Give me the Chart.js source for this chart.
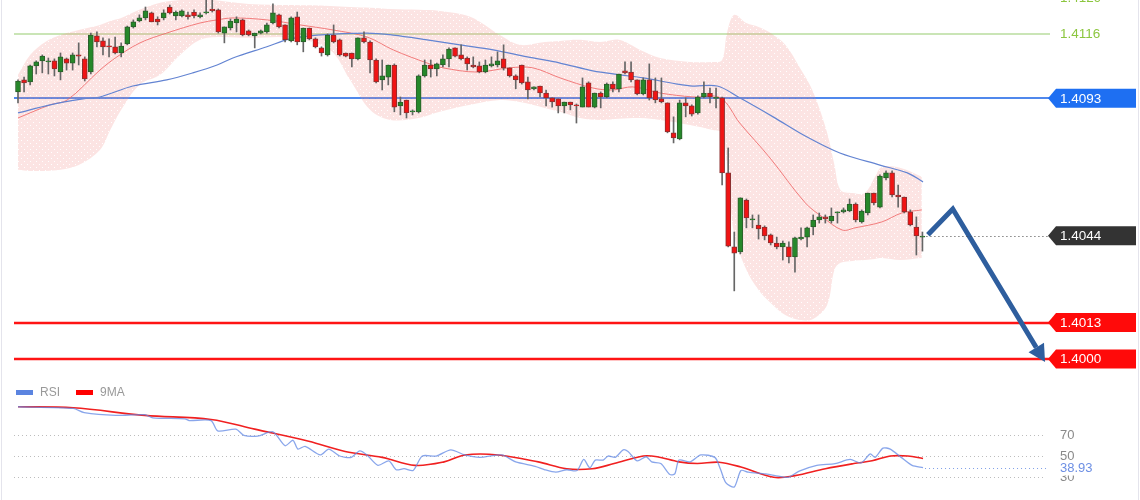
<!DOCTYPE html>
<html lang="en">
<head>
<meta charset="UTF-8">
<title>Price chart with RSI</title>
<script src="https://cdn.jsdelivr.net/npm/chart.js"></script>
<style>
  body { margin: 0; background: #fff; }
  #wrap { position: relative; width: 1140px; height: 500px; overflow: hidden; }
  #wrap canvas { position: absolute; left: 0; }
  #price { top: 0; }
  #rsi { top: 380px; }
  .edge { position: absolute; top: 0; width: 1px; height: 500px; background: #e4e4ec; }
</style>
</head>
<body>
<div id="wrap">
  <canvas id="price" width="1140" height="380"></canvas>
  <canvas id="rsi" width="1140" height="120"></canvas>
  <div class="edge" style="left:1px"></div>
  <div class="edge" style="left:1138px"></div>
</div>

<script>
// candles, oldest first
const open = [
  1.40953,1.40996,1.40989,1.41046,1.41064,1.41060,1.41064,1.41024,1.41071,1.41056,
  1.41085,1.41071,1.41024,1.41153,1.41135,1.41117,1.41114,1.41092,1.41124,1.41185,
  1.41206,1.41217,1.41235,1.41213,1.41217,1.41256,1.41224,1.41224,1.41228,1.41238,
  1.41221,1.41235,1.41249,1.41246,1.41163,1.41181,1.41199,1.41210,1.41171,1.41153,
  1.41163,1.41167,1.41199,1.41228,1.41192,1.41135,1.41221,1.41131,1.41181,1.41142,
  1.41110,1.41085,1.41156,1.41139,1.41092,1.41092,1.41071,1.41146,1.41131,1.41067,
  1.40996,1.41006,1.41049,1.40903,1.40924,1.40882,1.40882,1.41010,1.41049,1.41035,
  1.41049,1.41071,1.41110,1.41085,1.41074,1.41049,1.41046,1.41024,1.41046,1.41049,
  1.41071,1.41039,1.41010,1.41049,1.40989,1.40964,1.40974,1.40949,1.40932,1.40928,
  1.40903,1.40917,1.40907,1.40899,1.40985,1.40899,1.40949,1.40935,1.40981,1.40964,
  1.41028,1.41024,1.40996,1.40946,1.40996,1.40957,1.40928,1.40914,1.40807,1.40785,
  1.40914,1.40903,1.40878,1.40935,1.40949,1.40930,1.40932,1.40664,1.40400,1.40382,
  1.40567,1.40496,1.40478,1.40471,1.40443,1.40414,1.40400,1.40400,1.40364,1.40428,
  1.40435,1.40471,1.40496,1.40507,1.40493,1.40521,1.40525,1.40528,1.40553,1.40489,
  1.40521,1.40592,1.40542,1.40646,1.40664,1.40585,1.40578,1.40525,1.40471,1.40435
];
const high = [
  1.40996,1.41006,1.41049,1.41064,1.41085,1.41074,1.41071,1.41092,1.41074,1.41092,
  1.41128,1.41078,1.41163,1.41167,1.41146,1.41142,1.41149,1.41128,1.41188,1.41210,
  1.41228,1.41256,1.41238,1.41221,1.41246,1.41263,1.41242,1.41246,1.41238,1.41246,
  1.41235,1.41281,1.41281,1.41249,1.41185,1.41213,1.41221,1.41213,1.41174,1.41163,
  1.41174,1.41199,1.41267,1.41231,1.41192,1.41221,1.41238,1.41181,1.41181,1.41146,
  1.41114,1.41160,1.41192,1.41142,1.41092,1.41092,1.41146,1.41167,1.41135,1.41071,
  1.41067,1.41049,1.41053,1.40935,1.40924,1.40889,1.41014,1.41067,1.41067,1.41056,
  1.41085,1.41110,1.41110,1.41121,1.41078,1.41078,1.41060,1.41067,1.41078,1.41096,
  1.41121,1.41039,1.41014,1.41049,1.41006,1.40971,1.40974,1.40960,1.40932,1.40928,
  1.40917,1.40917,1.40910,1.41003,1.40989,1.40949,1.40953,1.40985,1.40989,1.41017,
  1.41060,1.41060,1.40996,1.41003,1.41053,1.41003,1.41003,1.40914,1.40864,1.40924,
  1.40932,1.40907,1.40939,1.40989,1.40967,1.40967,1.40935,1.40753,1.40453,1.40575,
  1.40571,1.40514,1.40514,1.40475,1.40446,1.40435,1.40421,1.40418,1.40435,1.40468,
  1.40471,1.40514,1.40521,1.40514,1.40539,1.40525,1.40539,1.40571,1.40557,1.40532,
  1.40592,1.40592,1.40657,1.40671,1.40671,1.40621,1.40578,1.40532,1.40507,1.40453
];
const low = [
  1.40914,1.40953,1.40978,1.41017,1.41021,1.41017,1.41010,1.40996,1.41031,1.41031,
  1.41049,1.40992,1.41017,1.41114,1.41085,1.41078,1.41089,1.41078,1.41121,1.41181,
  1.41203,1.41210,1.41203,1.41192,1.41210,1.41231,1.41210,1.41221,1.41213,1.41217,
  1.41217,1.41231,1.41238,1.41163,1.41128,1.41174,1.41167,1.41153,1.41153,1.41110,
  1.41160,1.41163,1.41196,1.41181,1.41131,1.41131,1.41121,1.41096,1.41139,1.41110,
  1.41081,1.41081,1.41128,1.41081,1.41078,1.41042,1.41067,1.41128,1.41021,1.40985,
  1.40960,1.40978,1.40882,1.40871,1.40860,1.40871,1.40878,1.41006,1.41006,1.41010,
  1.41042,1.41042,1.41078,1.41067,1.41031,1.41039,1.41021,1.41021,1.41042,1.41042,
  1.41031,1.41006,1.40964,1.40981,1.40928,1.40960,1.40935,1.40903,1.40899,1.40878,
  1.40878,1.40889,1.40842,1.40899,1.40899,1.40896,1.40896,1.40932,1.40953,1.40953,
  1.41017,1.40989,1.40942,1.40942,1.40924,1.40914,1.40914,1.40807,1.40771,1.40782,
  1.40864,1.40867,1.40874,1.40932,1.40914,1.40896,1.40621,1.40400,1.40243,1.40375,
  1.40468,1.40468,1.40428,1.40425,1.40407,1.40393,1.40353,1.40343,1.40310,1.40425,
  1.40400,1.40443,1.40485,1.40485,1.40485,1.40485,1.40521,1.40525,1.40489,1.40485,
  1.40514,1.40550,1.40539,1.40639,1.40578,1.40542,1.40521,1.40475,1.40371,1.40385
];
const close = [
  1.40992,1.40985,1.41046,1.41060,1.41081,1.41064,1.41035,1.41078,1.41056,1.41085,
  1.41081,1.40999,1.41156,1.41131,1.41114,1.41114,1.41092,1.41117,1.41185,1.41203,
  1.41217,1.41242,1.41203,1.41203,1.41235,1.41235,1.41238,1.41242,1.41221,1.41224,
  1.41228,1.41238,1.41242,1.41167,1.41185,1.41206,1.41213,1.41156,1.41156,1.41163,
  1.41171,1.41192,1.41235,1.41185,1.41139,1.41217,1.41131,1.41181,1.41142,1.41114,
  1.41092,1.41156,1.41131,1.41085,1.41081,1.41071,1.41146,1.41131,1.41067,1.40989,
  1.41010,1.41049,1.40899,1.40917,1.40878,1.40885,1.41010,1.41049,1.41035,1.41053,
  1.41071,1.41106,1.41081,1.41071,1.41053,1.41042,1.41024,1.41049,1.41053,1.41064,
  1.41039,1.41010,1.40996,1.40985,1.40960,1.40971,1.40949,1.40932,1.40917,1.40903,
  1.40917,1.40907,1.40903,1.40971,1.40899,1.40949,1.40935,1.40981,1.40964,1.41017,
  1.41021,1.40996,1.40946,1.40996,1.40932,1.40924,1.40917,1.40810,1.40789,1.40914,
  1.40903,1.40874,1.40935,1.40949,1.40935,1.40932,1.40664,1.40403,1.40378,1.40575,
  1.40503,1.40500,1.40464,1.40439,1.40414,1.40400,1.40414,1.40364,1.40432,1.40435,
  1.40468,1.40496,1.40507,1.40500,1.40510,1.40525,1.40532,1.40553,1.40496,1.40528,
  1.40592,1.40557,1.40653,1.40664,1.40585,1.40578,1.40525,1.40478,1.40439,1.40439
];

// bollinger envelope, read at these candle positions
const bandX = [0,2,4.5,7,10,13.5,15.2,17,20,23.4,26.7,30,33.3,38,45,51.4,54.7,58,61.3,66,
  69.5,74.5,79.4,82.7,86.8,89.3,92.6,96,99,102.5,105.8,110.7,114.5,116,116.8,118,120,122,124,
  126.4,128.8,131,133.3,134.5,135.5,137.5,139.5,141.2,142.3,145.3,148.9];
const bandUpper = [
  1.41014,1.41085,1.41131,1.41156,1.41174,1.41192,1.41206,1.41217,1.41246,1.41271,
  1.41281,1.41288,1.41278,1.41267,1.41263,1.41260,1.41256,1.41253,1.41249,1.41246,
  1.41242,1.41221,1.41156,1.41121,1.41131,1.41135,1.41139,1.41131,1.41139,1.41103,
  1.41074,1.41060,1.41060,1.41067,1.41163,1.41228,1.41199,1.41185,1.41163,1.41121,
  1.41039,1.40953,1.40807,1.40692,1.40603,1.40592,1.40592,1.40650,1.40685,1.40682,
  1.40650];
const bandLower = [
  1.40675,1.40671,1.40671,1.40675,1.40692,1.40746,1.40817,1.40889,1.40978,1.41014,
  1.41085,1.41139,1.41149,1.41146,1.41146,1.41103,1.40996,1.40889,1.40853,1.40860,
  1.40882,1.40907,1.40924,1.40917,1.40896,1.40882,1.40860,1.40853,1.40857,1.40860,
  1.40853,1.40835,1.40817,1.40807,1.40692,1.40443,1.40318,1.40246,1.40200,1.40157,
  1.40139,1.40143,1.40193,1.40318,1.40343,1.40350,1.40353,1.40357,1.40360,1.40353,
  1.40360];

// band middle (thin red) and slow average (blue)
const midX = [0,5.3,8.1,13.5,16.3,20.1,24.5,30,32.8,35.4,41,46.5,51.9,57.5,61.8,67.4,70,75.6,81,84.8,
  89.3,94.7,98,101.3,105.8,111.2,115.7,118.9,123.9,129.7,132.5,135.8,137.9,142.3,145.6,148.9];
const midLine = [1.40860,1.40907,1.40924,1.41031,1.41078,1.41128,1.41163,1.41199,1.41210,1.41217,
  1.41210,1.41192,1.41174,1.41149,1.41103,1.41056,1.41039,1.41024,1.41039,1.41039,
  1.41003,1.40967,1.40960,1.40971,1.40949,1.40935,1.40932,1.40842,1.40717,1.40557,
  1.40507,1.40460,1.40468,1.40489,1.40521,1.40532];
const maX = [0,5.3,10.7,13.5,18.9,24.5,28.8,32.8,35.4,41,44.8,49.3,57.5,61.8,67.4,72.8,78.3,83.9,
  89.3,94.7,99.2,103,108.6,111.2,115.2,118.9,124.4,130,135.4,142,146.5,149.1];
const maLine = [1.40878,1.40907,1.40928,1.40935,1.40974,1.40996,1.41021,1.41049,1.41074,1.41114,
  1.41142,1.41156,1.41163,1.41156,1.41139,1.41121,1.41103,1.41078,1.41056,1.41028,
  1.41014,1.41003,1.40981,1.40974,1.40974,1.40932,1.40864,1.40792,1.40735,1.40692,
  1.40664,1.40632];

// RSI panel
const rsiX = [0,9.1,10.9,16.1,20.9,22.2,27.5,28.2,31.8,32.9,35.9,37.2,39.5,42,44,45.3,46.1,47.3,49.8,51.2,
  53,54.9,56.3,57.5,59.3,61.1,62.3,63.6,65.1,66.6,68.9,71.3,73.6,76.1,79.7,82,85.2,86.8,88.6,90.4,
  92.1,93.2,94.2,95.1,96.4,97.2,98.4,99.7,100.5,102,103.5,104.4,105.9,107.4,108.2,108.9,110.7,112.5,114.8,115.7,
  116.6,118,119.1,120.3,123.2,125.7,126.9,128.7,131.6,134.6,137.1,138.9,140.4,141.2,142.5,143.7,145.5,147.3,149.1];
const rsiValues = [96.9,95.3,91.3,88.7,89.4,86.4,85.4,83.8,83.8,74,75.6,69.7,69,73,59.8,65,56.6,59.2,51,56.6,
  50,48.7,54.9,51,41.1,45.4,36.9,37.9,36.2,50,50,55.9,51,48.7,51,44.4,40.2,36.9,34.6,36.9,
  36.2,46.7,38.8,46.1,46.1,50,48.7,55.9,54.3,45.4,49.3,44.4,42.8,32.3,32.9,46.1,44.4,51,48.7,37.9,
  24.7,20.5,36.2,34.6,32.9,30.3,29.7,35.6,41.1,42.8,46.7,43.4,52,48.7,57.5,56.6,48.7,41.1,38.93];
const ma9X = [0,9.1,20.9,31.8,39,47.9,53.9,60,65.4,70.2,73.6,79.1,85.7,90.4,94.6,98.2,103,105.3,108.9,111.9,
  115.5,119.1,124.5,128,133,137.7,140.7,143.7,146.6,149.1];
const ma9Values = [96.9,95.9,88.7,84.8,75.6,64.1,54.3,48.7,41.1,44.4,51,51,44.4,37.9,37.9,42.8,50,49.3,44.4,42.8,
  44.1,39.5,29.7,31.3,37.9,42.8,45.4,50,50,47.7];
const rsiLevels = [70, 50, 30];

// price levels and the projected move
const greenLevels = [1.4129, 1.4116];
const resistance = 1.4093;
const lastPrice = 1.4044;
const supports = [1.4013, 1.4000];
const arrowX = [149.9, 154.0, 169.2];
const arrowY = [1.40443, 1.40535, 1.39989];

const xMin = -0.659, xMax = 169.357;
const FONT = '"Liberation Sans", Arial, sans-serif';

const pts = (xs, ys) => xs.map((v, k) => ({ x: v, y: ys[k] }));

function bandPattern() {
  const c = document.createElement('canvas');
  c.width = 6; c.height = 6;
  const g = c.getContext('2d');
  g.fillStyle = 'rgba(244,140,136,0.23)';
  g.fillRect(0, 0, 6, 6);
  g.clearRect(0, 5, 1, 1);
  g.clearRect(3, 2, 1, 1);
  return g.createPattern(c, 'repeat');
}

function tag(ctx, left, py, text, bg) {
  ctx.fillStyle = bg;
  ctx.beginPath();
  ctx.moveTo(left, py);
  ctx.lineTo(left + 8, py - 9.5);
  ctx.lineTo(1136, py - 9.5);
  ctx.lineTo(1136, py + 9.5);
  ctx.lineTo(left + 8, py + 9.5);
  ctx.closePath();
  ctx.fill();
  ctx.fillStyle = '#fff';
  ctx.fillText(text, left + 12, py + 0.5);
}

const levelsPlugin = {
  id: 'levels',
  beforeDatasetsDraw(chart) {
    const { ctx, chartArea: a, scales: { y } } = chart;
    const line = (v, color, w) => {
      const py = Math.round(y.getPixelForValue(v));
      ctx.strokeStyle = color;
      ctx.lineWidth = w;
      ctx.beginPath();
      ctx.moveTo(a.left, py);
      ctx.lineTo(a.right + 4, py);
      ctx.stroke();
    };
    ctx.save();
    greenLevels.forEach(v => line(v, '#b9dc9e', 1.5));
    line(resistance, '#5088ec', 2);
    supports.forEach(v => line(v, '#ff1414', 2.5));
    ctx.restore();
  },
  afterDatasetsDraw(chart) {
    const { ctx, scales: { x, y } } = chart;
    const p = arrowX.map((v, k) => [x.getPixelForValue(v), y.getPixelForValue(arrowY[k])]);
    const tip = p[p.length - 1], prev = p[p.length - 2];
    const dx = tip[0] - prev[0], dy = tip[1] - prev[1];
    const len = Math.hypot(dx, dy), ux = dx / len, uy = dy / len;
    const bx = tip[0] - ux * 17, by = tip[1] - uy * 17;
    ctx.save();
    ctx.strokeStyle = '#2e5e9e';
    ctx.fillStyle = '#2e5e9e';
    ctx.lineWidth = 5;
    ctx.lineJoin = 'miter';
    ctx.beginPath();
    ctx.moveTo(p[0][0], p[0][1]);
    for (let k = 1; k < p.length - 1; k++) ctx.lineTo(p[k][0], p[k][1]);
    ctx.lineTo(bx, by);
    ctx.stroke();
    ctx.beginPath();
    ctx.moveTo(tip[0], tip[1]);
    ctx.lineTo(bx - uy * 9, by + ux * 9);
    ctx.lineTo(bx + uy * 9, by - ux * 9);
    ctx.closePath();
    ctx.fill();
    ctx.restore();
  },
  afterDraw(chart) {
    const { ctx, chartArea: a, scales: { x, y } } = chart;
    const left = a.right + 2;
    ctx.save();
    ctx.font = '13.5px ' + FONT;
    ctx.textBaseline = 'middle';

    // dotted line from the last candle to its tag
    const ly = Math.round(y.getPixelForValue(lastPrice)) + 0.5;
    ctx.strokeStyle = '#444';
    ctx.lineWidth = 1;
    ctx.setLineDash([1, 3]);
    ctx.beginPath();
    ctx.moveTo(x.getPixelForValue(close.length - 1) + 4, ly);
    ctx.lineTo(left, ly);
    ctx.stroke();
    ctx.setLineDash([]);

    ctx.fillStyle = '#8cc63f';
    greenLevels.forEach(v => ctx.fillText(v.toFixed(4), left + 12, y.getPixelForValue(v) + 0.5));
    tag(ctx, left, y.getPixelForValue(resistance), resistance.toFixed(4), '#1e6ff2');
    tag(ctx, left, y.getPixelForValue(lastPrice), lastPrice.toFixed(4), '#333333');
    supports.forEach(v => tag(ctx, left, y.getPixelForValue(v), v.toFixed(4), '#ff0a0a'));
    ctx.restore();
  }
};

const up = i => close[i] >= open[i];

new Chart(document.getElementById('price'), {
  type: 'bar',
  data: {
    datasets: [
      { type: 'line', data: pts(bandX, bandUpper), borderColor: 'rgba(0,0,0,0)', borderWidth: 0,
        pointRadius: 0, tension: 0.35, fill: '+1', backgroundColor: bandPattern(), order: 6 },
      { type: 'line', data: pts(bandX, bandLower), borderColor: 'rgba(0,0,0,0)', borderWidth: 0,
        pointRadius: 0, tension: 0.35, fill: false, order: 6 },
      { type: 'line', data: pts(midX, midLine), borderColor: 'rgba(240,105,105,0.85)', borderWidth: 1,
        pointRadius: 0, tension: 0.35, order: 4 },
      { type: 'line', data: pts(maX, maLine), borderColor: '#6384d2', borderWidth: 1.2,
        pointRadius: 0, tension: 0.35, order: 3 },
      { data: close.map((c, i) => ({ x: i, y: [low[i], high[i]] })), backgroundColor: '#666',
        barThickness: 1, grouped: false, order: 2 },
      { data: close.map((c, i) => ({ x: i, y: [Math.min(open[i], c), Math.max(open[i], c)] })),
        backgroundColor: ctx => up(ctx.dataIndex) ? '#26882a' : '#f01414',
        borderColor: ctx => up(ctx.dataIndex) ? '#2b5e2b' : '#8a3030',
        borderWidth: 1, borderSkipped: false, barThickness: 5, minBarLength: 1,
        grouped: false, order: 1 }
    ]
  },
  options: {
    responsive: false,
    animation: false,
    devicePixelRatio: 1,
    layout: { padding: { left: 14, right: 94, top: 0, bottom: 0 } },
    plugins: { legend: { display: false }, tooltip: { enabled: false } },
    scales: {
      x: { type: 'linear', min: xMin, max: xMax, display: false, offset: false },
      y: { min: 1.39925, max: 1.41281, display: false }
    }
  },
  plugins: [levelsPlugin]
});

const rsiPlugin = {
  id: 'rsiExtras',
  beforeDatasetsDraw(chart) {
    const { ctx, chartArea: a, scales: { y } } = chart;
    ctx.save();
    ctx.strokeStyle = '#bdbdbd';
    ctx.lineWidth = 1;
    ctx.setLineDash([1, 3]);
    rsiLevels.forEach(v => {
      const py = Math.round(y.getPixelForValue(v)) + 0.5;
      ctx.beginPath();
      ctx.moveTo(a.left, py);
      ctx.lineTo(a.right, py);
      ctx.stroke();
    });
    ctx.restore();
  },
  afterDraw(chart) {
    const { ctx, chartArea: a, scales: { x, y } } = chart;
    const last = rsiValues[rsiValues.length - 1];
    const py = Math.round(y.getPixelForValue(last)) + 0.5;
    ctx.save();
    ctx.font = '13px ' + FONT;
    ctx.textBaseline = 'middle';
    ctx.fillStyle = '#8a8a8a';
    rsiLevels.forEach(v => ctx.fillText(String(v), a.right + 14, y.getPixelForValue(v)));

    ctx.strokeStyle = '#7f9fe8';
    ctx.lineWidth = 1;
    ctx.setLineDash([1, 3]);
    ctx.beginPath();
    ctx.moveTo(x.getPixelForValue(rsiX[rsiX.length - 1]) + 2, py);
    ctx.lineTo(a.right, py);
    ctx.stroke();
    ctx.setLineDash([]);

    ctx.fillStyle = '#fff';
    ctx.fillRect(a.right + 12, py - 7, 40, 14);
    ctx.fillStyle = '#6d8fe4';
    ctx.fillText(last.toFixed(2), a.right + 14, py);

    // legend
    ctx.font = '12px ' + FONT;
    ctx.fillStyle = '#5b84e0';
    ctx.fillRect(16, 10, 17, 5);
    ctx.fillStyle = '#ff0000';
    ctx.fillRect(76, 10, 17, 5);
    ctx.fillStyle = '#999';
    ctx.fillText('RSI', 40, 12.5);
    ctx.fillText('9MA', 100, 12.5);
    ctx.restore();
  }
};

new Chart(document.getElementById('rsi'), {
  type: 'line',
  data: {
    datasets: [
      { data: pts(rsiX, rsiValues), borderColor: 'rgba(98,136,228,0.75)', borderWidth: 1.3,
        pointRadius: 0, tension: 0.25 },
      { data: pts(ma9X, ma9Values), borderColor: '#f02020', borderWidth: 1.6,
        pointRadius: 0, tension: 0.35 }
    ]
  },
  options: {
    responsive: false,
    animation: false,
    devicePixelRatio: 1,
    layout: { padding: { left: 14, right: 94, top: 0, bottom: 0 } },
    plugins: { legend: { display: false }, tooltip: { enabled: false } },
    scales: {
      x: { type: 'linear', min: xMin, max: xMax, display: false },
      y: { min: 8.1, max: 122.4, display: false }
    }
  },
  plugins: [rsiPlugin]
});
</script>
</body>
</html>
